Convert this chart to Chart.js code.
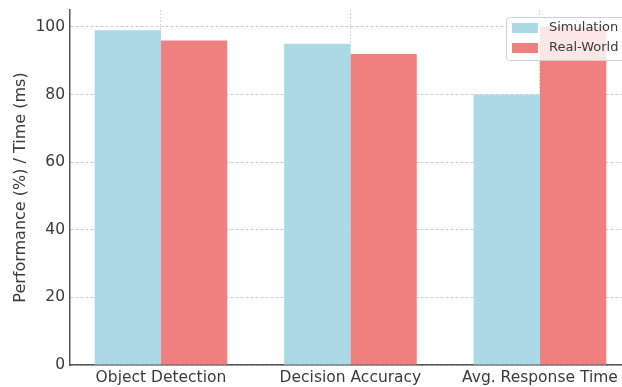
<!DOCTYPE html>
<html>
<head>
<meta charset="utf-8">
<script src="https://cdn.jsdelivr.net/npm/chart.js@4/dist/chart.umd.min.js"></script>
<style>
  html, body { margin: 0; padding: 0; background: #fff; }
  #wrap { width: 622px; height: 387px; }
</style>
</head>
<body>
<div id="wrap"><canvas id="perf-chart"></canvas></div>
<script>
const categories = ['Object Detection', 'Decision Accuracy', 'Avg. Response Time']
const simulationValues = [99, 95, 80]
const realWorldValues = [96, 92, 100]
const yTicks = [0, 20, 40, 60, 80, 100]

const SIM_COLOR = '#ADD8E6'
const REAL_COLOR = '#F08080'
const TEXT_COLOR = '#3a3a3a'
const FONT = 'DejaVu Sans'

// legend drawn inside the plot, top right, like matplotlib's
const insideLegend = {
  id: 'insideLegend',
  afterDraw(chart) {
    const { ctx, chartArea } = chart
    const x = chartArea.right - 116
    const y = chartArea.top + 7
    ctx.save()
    ctx.fillStyle = 'rgba(255,255,255,0.8)'
    ctx.strokeStyle = '#d0d0d0'
    ctx.lineWidth = 1
    ctx.beginPath()
    ctx.roundRect(x + 0.5, y + 0.5, 140, 43, 3)
    ctx.fill()
    ctx.stroke()
    const items = [
      ['Simulation', SIM_COLOR],
      ['Real-World', REAL_COLOR],
    ]
    ctx.font = '13px "' + FONT + '"'
    ctx.textBaseline = 'middle'
    items.forEach(([label, color], i) => {
      const cy = y + 11 + i * 20
      ctx.fillStyle = color
      ctx.fillRect(x + 6, cy - 5, 26, 10)
      ctx.fillStyle = TEXT_COLOR
      ctx.fillText(label, x + 43, cy)
    })
    ctx.restore()
  },
}

const dataPerf = {
  datasets: [
    {
      label: 'Simulation',
      data: simulationValues.map((v, i) => ({ x: i, y: v })),
      backgroundColor: SIM_COLOR,
    },
    {
      label: 'Real-World',
      data: realWorldValues.map((v, i) => ({ x: i, y: v })),
      backgroundColor: REAL_COLOR,
    },
  ],
}

const configPerf = {
  type: 'bar',
  data: dataPerf,
  options: {
    responsive: true,
    maintainAspectRatio: false,
    animation: false,
    categoryPercentage: 0.7,
    barPercentage: 1.0,
    layout: { padding: { top: 10, right: 0, bottom: 0, left: 0 } },
    plugins: {
      legend: { display: false },
      tooltip: { enabled: false },
    },
    scales: {
      x: {
        type: 'linear',
        offset: false,
        min: -0.48,
        max: 2.433,
        afterBuildTicks: axis => {
          axis.ticks = categories.map((_, i) => ({ value: i }))
        },
        afterFit: axis => {
          axis.height = 22
          axis.paddingLeft = 0
          axis.paddingRight = 0
        },
        ticks: {
          callback: value => categories[value],
          autoSkip: false,
          maxRotation: 0,
          padding: 4,
          color: TEXT_COLOR,
          font: { family: FONT, size: 15.5 },
        },
        grid: {
          offset: false,
          drawTicks: false,
          color: 'rgba(180,180,180,0.7)',
        },
        border: { color: '#555', width: 1.5, dash: [1.5, 2] },
      },
      y: {
        min: 0,
        max: 105,
        afterBuildTicks: axis => {
          axis.ticks = yTicks.map(v => ({ value: v }))
        },
        afterFit: axis => {
          axis.width = 70
          axis.paddingTop = 0
          axis.paddingBottom = 0
        },
        ticks: {
          padding: 5,
          color: TEXT_COLOR,
          font: { family: FONT, size: 15.5 },
        },
        title: {
          display: true,
          text: 'Performance (%) / Time (ms)',
          color: TEXT_COLOR,
          font: { family: FONT, size: 16 },
          padding: { top: 11, bottom: 0 },
        },
        grid: {
          drawTicks: false,
          color: 'rgba(180,180,180,0.7)',
        },
        border: { color: '#555', width: 1.5, dash: [3, 2] },
      },
    },
  },
  plugins: [insideLegend],
}

const perfChart = new Chart(
  document.getElementById('perf-chart').getContext('2d'),
  configPerf
)
</script>
</body>
</html>
